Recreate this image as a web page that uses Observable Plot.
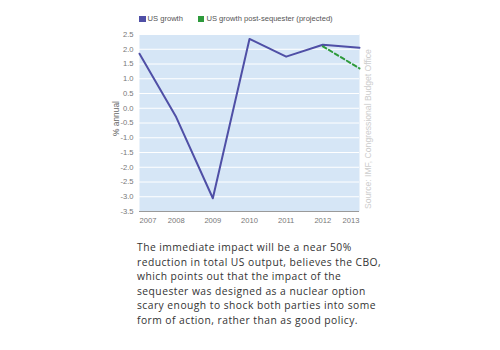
<!DOCTYPE html>
<html><head><meta charset="utf-8">
<script src="https://cdn.jsdelivr.net/npm/d3@7"></script>
<script src="https://cdn.jsdelivr.net/npm/@observablehq/plot@0.6"></script>
<style>
body{margin:0;background:#fff;width:500px;height:350px;overflow:hidden;font-family:"Liberation Sans",Arial,sans-serif;}
#wrap{position:relative;width:500px;height:350px;}
#legend{position:absolute;top:14px;left:139px;font-size:7.6px;line-height:10px;color:#555;display:flex;align-items:center;}
.sw{display:inline-block;width:6.5px;height:6.5px;margin-right:2px;}
.item{display:flex;align-items:center;}
#source{position:absolute;left:363px;top:209px;transform-origin:0 0;transform:rotate(-90deg);font-size:8.6px;line-height:10px;color:#cdcdcd;white-space:nowrap;}
#ylabel{position:absolute;left:111px;top:136px;transform-origin:0 0;transform:rotate(-90deg);font-size:8.4px;line-height:10px;color:#666;white-space:nowrap;}
#para{position:absolute;left:137px;top:240px;width:300px;font-family:"Open Sans",sans-serif;font-size:10.3px;letter-spacing:0.46px;line-height:14.6px;color:#333;white-space:nowrap;}
#chart{position:absolute;left:0;top:0;}
</style></head>
<body><div id="wrap">
<div id="chart"></div>
<div id="legend"></div>
<div id="ylabel"></div>
<div id="source"></div>
<div id="para"></div>
</div>
<script>
const years = [2007, 2008, 2009, 2010, 2011, 2012, 2013];
const growth = [1.85, -0.3, -3.05, 2.35, 1.75, 2.15, 2.05];
const projYears = [2012, 2013];
const projected = [2.1, 1.35];
const yTicks = [-3.5, -3.0, -2.5, -2.0, -1.5, -1.0, -0.5, 0.0, 0.5, 1.0, 1.5, 2.0, 2.5];
const seriesNames = ["US growth", "US growth post-sequester (projected)"];
const seriesColors = ["#4f4fa6", "#2e9a3c"];
const yLabel = "% annual";
const sourceText = "Source: IMF, Congressional Budget Office";
const paragraphLines = [
  "The immediate impact will be a near 50%",
  "reduction in total US output, believes the CBO,",
  "which points out that the impact of the",
  "sequester was designed as a nuclear option",
  "scary enough to shock both parties into some",
  "form of action, rather than as good policy."
];

const main = years.map((y, i) => ({year: y, value: growth[i]}));
const proj = projYears.map((y, i) => ({year: y, value: projected[i]}));
const firstYear = [years[0]];
const midYears = years.slice(1, -1);
const lastYear = [years[years.length - 1]];
const axisOpts = {tickSize: 0, tickPadding: 6, tickFormat: d => String(d), label: null, fill: "#777"};

const chart = Plot.plot({
  width: 500, height: 235,
  marginTop: 34, marginBottom: 24, marginLeft: 139, marginRight: 141,
  style: {fontFamily: "Liberation Sans, Arial, sans-serif", fontSize: "7.6px", color: "#777", background: "transparent"},
  x: {domain: [2007, 2013]},
  y: {domain: [-3.5, 2.5]},
  marks: [
    Plot.frame({fill: "#d6e6f6", stroke: null}),
    Plot.gridY(yTicks, {stroke: "#fff", strokeOpacity: 1, strokeWidth: 1}),
    Plot.ruleY([-3.5], {stroke: "#9a9a9a", strokeWidth: 1}),
    Plot.axisY(yTicks, {tickSize: 0, tickPadding: 6, tickFormat: d => d.toFixed(1), label: null, fill: "#777"}),
    Plot.axisX(firstYear, {...axisOpts, textAnchor: "start"}),
    Plot.axisX(midYears, axisOpts),
    Plot.axisX(lastYear, {...axisOpts, textAnchor: "end"}),
    Plot.line(main, {x: "year", y: "value", stroke: seriesColors[0], strokeWidth: 2}),
    Plot.line(proj, {x: "year", y: "value", stroke: seriesColors[1], strokeWidth: 2, strokeDasharray: "4,3"})
  ]
});
document.getElementById("chart").appendChild(chart);

const leg = document.getElementById("legend");
seriesNames.forEach((n, i) => {
  const it = document.createElement("span");
  it.className = "item";
  it.style.marginRight = i === 0 ? "15px" : "0";
  it.innerHTML = `<span class="sw" style="background:${seriesColors[i]}"></span>${n}`;
  leg.appendChild(it);
});
document.getElementById("ylabel").textContent = yLabel;
document.getElementById("source").textContent = sourceText;
document.getElementById("para").innerHTML = paragraphLines.join("<br>");
</script>
</body></html>
